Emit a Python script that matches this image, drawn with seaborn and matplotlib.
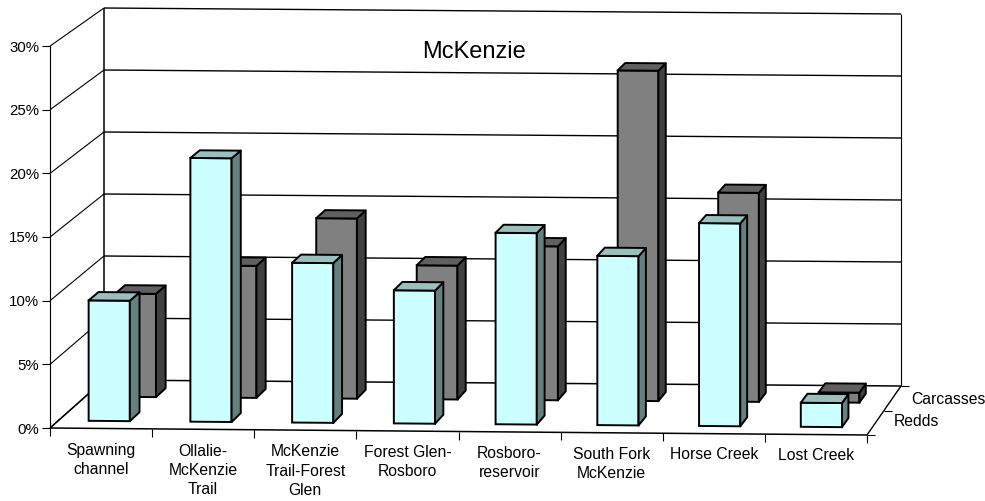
import matplotlib
matplotlib.use("Agg")
import matplotlib.pyplot as plt
from matplotlib.patches import Polygon
from matplotlib.transforms import Affine2D
import seaborn as sns

categories = ["Spawning\nchannel", "Ollalie-\nMcKenzie\nTrail", "McKenzie\nTrail-Forest\nGlen",
              "Forest Glen-\nRosboro", "Rosboro-\nreservoir", "South Fork\nMcKenzie",
              "Horse Creek", "Lost Creek"]
redds = [9.5, 20.8, 12.6, 10.5, 15.1, 13.35, 16.0, 1.9]
carcasses = [8.25, 10.55, 14.4, 10.7, 12.3, 26.4, 16.7, 0.8]
series_names = ["Redds", "Carcasses"]
y_ticks = [0, 5, 10, 15, 20, 25, 30]
y_labels = ["0%", "5%", "10%", "15%", "20%", "25%", "30%"]
title = "McKenzie"

W, H = 985, 501
FRONT_L, FRONT_R = (50, 428), (867, 435)
DEPTH_L, DEPTH_R = (54, -48), (34, -49)
BAR_D = 0.185
FRONT_D, BACK_D = 0.155, 0.655
N = len(categories)

sns.set_style("white")
plt.rcParams["font.family"] = ["Liberation Sans", "DejaVu Sans"]
FS = 10.8
FS_CAT = 11.3


def project(c, v, d):
    f = (c + 0.5) / N
    lx, ly = FRONT_L[0] + DEPTH_L[0] * d, FRONT_L[1] + DEPTH_L[1] * d
    rx, ry = FRONT_R[0] + DEPTH_R[0] * d, FRONT_R[1] + DEPTH_R[1] * d
    scale = 12.73 - 0.33 * d
    return lx + (rx - lx) * f, H - (ly + (ry - ly) * f - scale * v)


def plane(d):
    x0, y0 = project(0, 0, d)
    x1, y1 = project(1, 0, d)
    _, y2 = project(0, 1, d)
    return Affine2D.from_values(x1 - x0, y1 - y0, 0, y2 - y0, x0, y0)


fig = plt.figure(figsize=(W / 100, H / 100), dpi=100)
ax = fig.add_axes([FRONT_L[0] / W, (H - FRONT_L[1]) / H,
                   (FRONT_R[0] - FRONT_L[0]) / W, (FRONT_L[1] - 46) / H])
ax.patch.set_alpha(0)

LW_WALL = 0.8
LW_BAR = 1.4


def line(xs, ys, lw=LW_WALL, z=1, color="black"):
    ax.plot(xs, ys, transform=Affine2D(), color=color, lw=lw, zorder=z, clip_on=False,
            scalex=False, scaley=False, solid_capstyle="butt")


def seg(p, q, **kw):
    line([p[0], q[0]], [p[1], q[1]], **kw)


cmin, cmax = -0.5, N - 0.5
# walls and gridlines
for v in y_ticks:
    a, b, c = project(cmin, v, 0), project(cmin, v, 1), project(cmax, v, 1)
    seg(a, b)
    seg(b, c, lw=1.0 if v else 1.1)
seg(project(cmin, 0, 1), project(cmin, 30, 1), lw=1.1)
seg(project(cmax, 0, 1), project(cmax, 30, 1), lw=0.8)
# floor
seg(project(cmin, 0, 0), project(cmax, 0, 0), lw=1.1, z=2)
seg(project(cmin, 0, 0), project(cmin, 0, 1), lw=1.1, z=2)
seg(project(cmax, 0, 0), project(cmax, 0, 1), lw=1.0, z=2)
# category ticks
for i in range(N + 1):
    x, y = project(cmin + i, 0, 0)
    line([x, x], [y, y - 8], lw=0.8, z=2)
# depth ticks and labels
for d in (0, 0.5, 1):
    x, y = project(cmax, 0, d)
    line([x, x + 8], [y, y], lw=0.8, z=2)
for name, d, dy in zip(series_names, (0.25, 0.75), (1, -1)):
    x, y = project(cmax, 0, d)
    ax.text(x + 18.5, y + dy, name, transform=Affine2D(), fontsize=FS_CAT, va="center", ha="left",
            clip_on=False, color="black")


def draw_series(values, d, front, side, top, z):
    start = len(ax.patches)
    sns.barplot(x=categories, y=values, color=front, saturation=1, width=0.405, ax=ax, zorder=z)
    for p in list(ax.patches[start:]):
        p.set_transform(plane(d))
        p.set_clip_on(False)
        p.set_edgecolor("black")
        p.set_linewidth(LW_BAR)
        p.set_zorder(z)
        x0, x1, h = p.get_x(), p.get_x() + p.get_width(), p.get_height()
        side_pts = [project(x1, 0, d), project(x1, h, d), project(x1, h, d + BAR_D), project(x1, 0, d + BAR_D)]
        top_pts = [project(x0, h, d), project(x1, h, d), project(x1, h, d + BAR_D), project(x0, h, d + BAR_D)]
        for pts, col in ((side_pts, side), (top_pts, top)):
            ax.add_patch(Polygon(pts, closed=True, facecolor=col, edgecolor="black", lw=LW_BAR,
                                 transform=Affine2D(), clip_on=False, zorder=z, joinstyle="round"))


draw_series(carcasses, BACK_D, "#808080", "#404040", "#606060", 3)
draw_series(redds, FRONT_D, "#CCFFFF", "#668080", "#99BFBF", 5)

ax.set_xlim(cmin, cmax)
ax.set_ylim(0, 30)
ax.set_yticks(y_ticks, y_labels, fontsize=FS)
ax.set_xticks(range(N), categories, fontsize=FS_CAT)
ax.tick_params(axis="y", length=5.8, width=0.8, pad=2, left=True, color="black", labelcolor="black")
ax.tick_params(axis="x", length=0, labelcolor="black")
for i, (tick, lab) in enumerate(zip(ax.xaxis.get_major_ticks(), ax.get_xticklabels())):
    tick.set_pad((14.5 + 0.75 * (i + 0.5)) * 0.72)
    lab.set_linespacing(1.35)
for s in ("top", "right", "bottom"):
    ax.spines[s].set_visible(False)
ax.spines["left"].set_linewidth(0.8)
ax.spines["left"].set_color("black")
ax.set_title(title, fontsize=17, x=(474 - 50) / 817, y=(428 - 58) / 382, pad=0, color="black")
ax.set_xlabel("")
ax.set_ylabel("")

fig.savefig("out.png", dpi=100)
